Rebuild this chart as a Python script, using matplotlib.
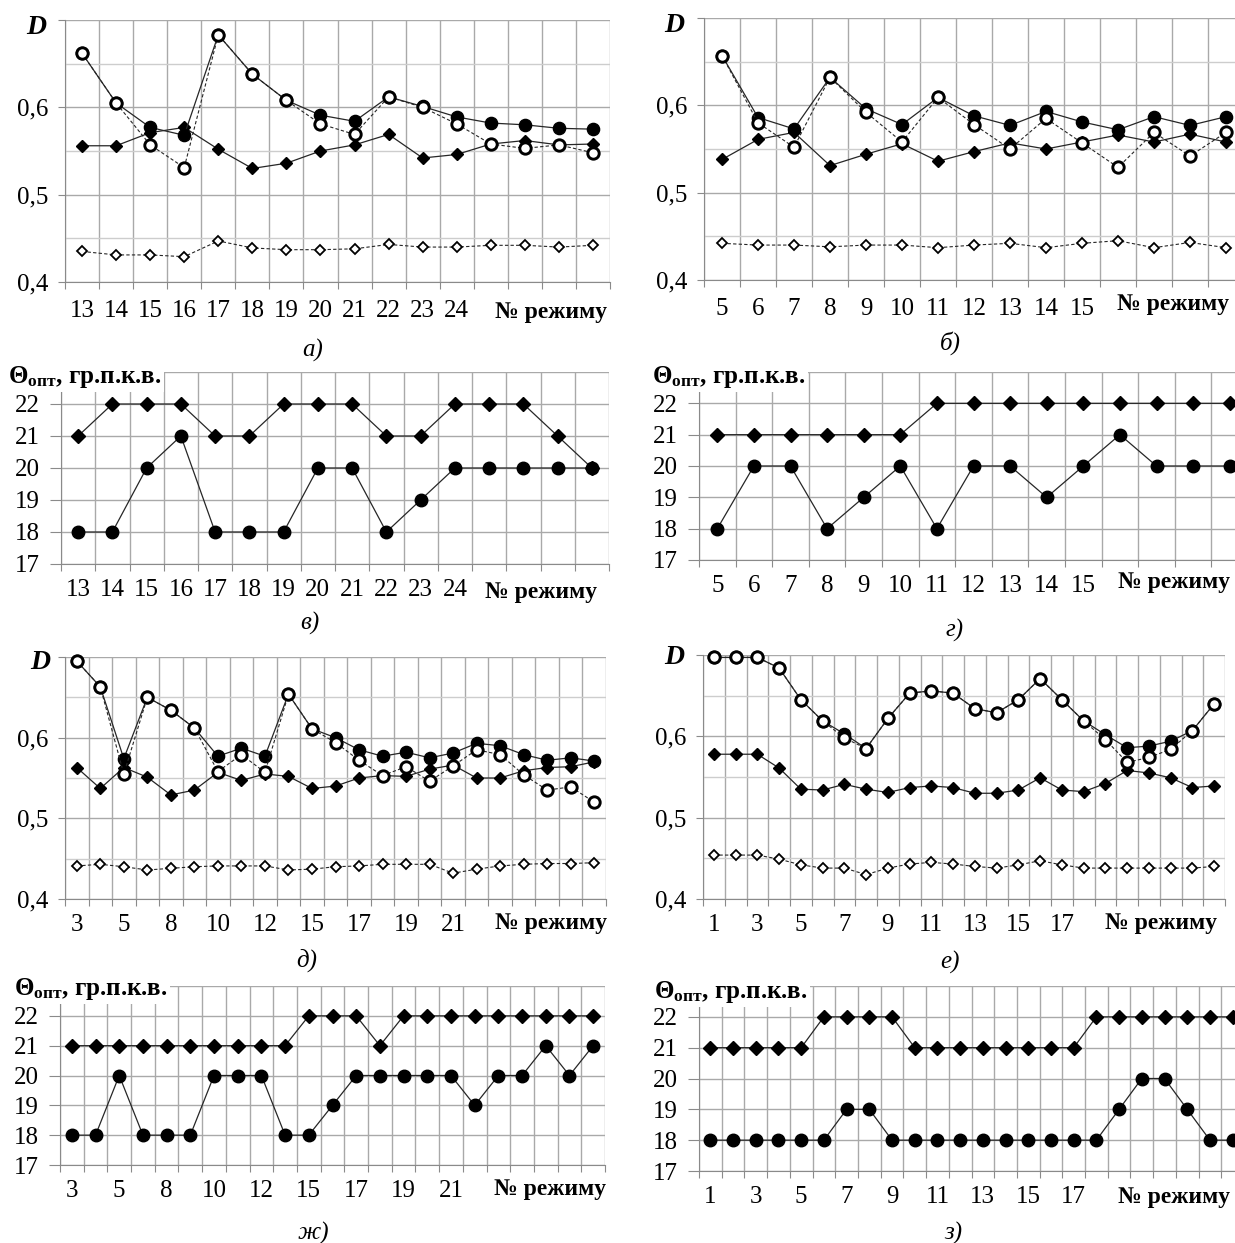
import matplotlib
matplotlib.use("Agg")
import matplotlib.pyplot as plt
import numpy as np

plt.rcParams["font.family"] = ["Liberation Serif", "DejaVu Serif"]
plt.rcParams["mathtext.fontset"] = "custom"
plt.rcParams["mathtext.rm"] = "Liberation Serif:bold"
plt.rcParams["mathtext.bf"] = "Liberation Serif:bold"
plt.rcParams["mathtext.it"] = "Liberation Serif:bold:italic"

W, H = 1235, 1243

# ---- panel а) : regimes 13..28, D
a_labels = ["13", "14", "15", "16", "17", "18", "19", "20", "21", "22", "23", "24", "", "", "", ""]
a_circ_fill = [0.662, 0.605, 0.577, 0.568, 0.683, 0.638, 0.608, 0.591, 0.584, 0.612, 0.601, 0.589, 0.582, 0.580, 0.576, 0.575]
a_circ_open = [0.662, 0.605, 0.557, 0.531, 0.683, 0.638, 0.608, 0.581, 0.569, 0.612, 0.600, 0.581, 0.558, 0.553, 0.557, 0.548]
a_diam_fill = [0.556, 0.556, 0.571, 0.577, 0.552, 0.530, 0.536, 0.550, 0.557, 0.569, 0.542, 0.546, 0.558, 0.562, 0.557, 0.558]
a_diam_open = [0.435, 0.431, 0.431, 0.429, 0.447, 0.439, 0.437, 0.437, 0.438, 0.443, 0.440, 0.440, 0.442, 0.442, 0.440, 0.442]

# ---- panel б) : regimes 5..19, D
b_labels = ["5", "6", "7", "8", "9", "10", "11", "12", "13", "14", "15", "", "", "", ""]
b_circ_fill = [0.657, 0.586, 0.573, 0.632, 0.596, 0.578, 0.609, 0.588, 0.577, 0.593, 0.581, 0.572, 0.587, 0.577, 0.587]
b_circ_open = [0.657, 0.580, 0.552, 0.632, 0.592, 0.558, 0.609, 0.578, 0.550, 0.585, 0.557, 0.529, 0.569, 0.542, 0.569]
b_diam_fill = [0.538, 0.561, 0.569, 0.531, 0.544, 0.556, 0.536, 0.547, 0.557, 0.550, 0.558, 0.566, 0.558, 0.567, 0.558]
b_diam_open = [0.442, 0.440, 0.440, 0.438, 0.440, 0.440, 0.437, 0.440, 0.442, 0.437, 0.442, 0.445, 0.437, 0.443, 0.437]

# ---- panel в) : theta opt, regimes 13..28
v_labels = a_labels
v_diam = [21, 22, 22, 22, 21, 21, 22, 22, 22, 21, 21, 22, 22, 22, 21, 20]
v_circ = [18, 18, 20, 21, 18, 18, 18, 20, 20, 18, 19, 20, 20, 20, 20, 20]

# ---- panel г) : theta opt, regimes 5..19
g_labels = b_labels
g_diam = [21, 21, 21, 21, 21, 21, 22, 22, 22, 22, 22, 22, 22, 22, 22]
g_circ = [18, 20, 20, 18, 19, 20, 18, 20, 20, 19, 20, 21, 20, 20, 20]

# ---- panel д) : 23 regimes, D
d_labels = ["3", "", "5", "", "8", "", "10", "", "12", "", "15", "", "17", "", "19", "", "21",
            "", "", "", "", "", ""]
d_circ_fill = [0.695, 0.663, 0.574, 0.650, 0.634, 0.612, 0.577, 0.587, 0.577, 0.654, 0.611, 0.600,
               0.585, 0.577, 0.582, 0.575, 0.581, 0.593, 0.590, 0.579, 0.572, 0.575, 0.571]
d_circ_open = [0.695, 0.663, 0.555, 0.650, 0.634, 0.612, 0.558, 0.579, 0.557, 0.654, 0.611, 0.594,
               0.572, 0.553, 0.564, 0.546, 0.565, 0.585, 0.579, 0.554, 0.535, 0.539, 0.520]
d_diam_fill = [0.563, 0.537, 0.563, 0.551, 0.529, 0.535, 0.557, 0.547, 0.555, 0.552, 0.537, 0.540,
               0.550, 0.553, 0.552, 0.561, 0.566, 0.550, 0.550, 0.559, 0.563, 0.564, 0.570]
d_diam_open = [0.441, 0.443, 0.440, 0.436, 0.438, 0.440, 0.441, 0.441, 0.441, 0.436, 0.437, 0.440,
               0.441, 0.443, 0.443, 0.443, 0.432, 0.437, 0.441, 0.443, 0.444, 0.444, 0.445]

# ---- panel е) : 24 regimes, D
e_labels = ["1", "", "3", "", "5", "", "7", "", "9", "", "11", "", "13", "", "15", "", "17",
            "", "", "", "", "", "", ""]
e_circ_fill = [0.697, 0.697, 0.697, 0.684, 0.645, 0.619, 0.603, 0.585, 0.622, 0.653, 0.656, 0.653,
               0.634, 0.629, 0.645, 0.671, 0.645, 0.619, 0.602, 0.586, 0.588, 0.594, 0.607, 0.640]
e_circ_open = [0.697, 0.697, 0.697, 0.684, 0.645, 0.619, 0.598, 0.585, 0.622, 0.653, 0.656, 0.653,
               0.634, 0.629, 0.645, 0.671, 0.645, 0.619, 0.596, 0.568, 0.574, 0.584, 0.607, 0.640]
e_diam_fill = [0.578, 0.578, 0.578, 0.561, 0.535, 0.534, 0.541, 0.535, 0.531, 0.537, 0.539, 0.537,
               0.530, 0.530, 0.534, 0.549, 0.534, 0.532, 0.542, 0.558, 0.555, 0.549, 0.537, 0.539]
e_diam_open = [0.454, 0.454, 0.454, 0.449, 0.442, 0.438, 0.438, 0.430, 0.438, 0.443, 0.445, 0.443,
               0.440, 0.438, 0.442, 0.447, 0.442, 0.438, 0.438, 0.438, 0.438, 0.438, 0.438, 0.440]

# ---- panel ж) : theta opt, 23 regimes
zh_labels = d_labels
zh_diam = [21, 21, 21, 21, 21, 21, 21, 21, 21, 21, 22, 22, 22, 21, 22, 22, 22, 22, 22, 22, 22, 22, 22]
zh_circ = [18, 18, 20, 18, 18, 18, 20, 20, 20, 18, 18, 19, 20, 20, 20, 20, 20, 19, 20, 20, 21, 20, 21]

# ---- panel з) : theta opt, 24 regimes
z_labels = e_labels
z_diam = [21, 21, 21, 21, 21, 22, 22, 22, 22, 21, 21, 21, 21, 21, 21, 21, 21, 22, 22, 22, 22, 22, 22, 22]
z_circ = [18, 18, 18, 18, 18, 18, 19, 19, 18, 18, 18, 18, 18, 18, 18, 18, 18, 18, 19, 20, 20, 19, 18, 18]

LINE = "#262626"
GRID = "#a9a9a9"
GRID_MINOR = "#cdcdcd"
AXIS = "#8a8a8a"
TICK_FS = 18


def place(fig, l, r, t, b):
    return fig.add_axes([l / W, 1 - b / H, (r - l) / W, (b - t) / H])


def frame(ax, labels, pad):
    n = len(labels)
    ax.set_xlim(0, n)
    ax.set_xticks(np.arange(n + 1))
    ax.set_xticklabels([])
    ax.set_xticks(np.arange(n) + 0.5, minor=True)
    ax.set_xticklabels(labels, minor=True, fontsize=TICK_FS)
    ax.tick_params(axis="x", which="major", length=5, color=AXIS, direction="out")
    ax.tick_params(axis="x", which="minor", length=0, pad=pad)
    ax.grid(True, axis="x", which="major", color=GRID, lw=1.0)
    for s in ("top", "right"):
        ax.spines[s].set_visible(False)
    ax.spines["left"].set_color(AXIS)
    ax.spines["bottom"].set_color(AXIS)
    ax.set_axisbelow(True)
    ax.tick_params(axis="y", labelsize=TICK_FS, color=AXIS, length=5, pad=7)
    return np.arange(n) + 0.5


def d_panel(ax, labels, c_fill, c_open, d_fill, d_open, pad):
    x = frame(ax, labels, pad)
    ax.set_ylim(0.4, 0.7)
    ax.set_yticks([0.4, 0.5, 0.6, 0.7])
    ax.set_yticklabels(["0,4", "0,5", "0,6", ""])
    ax.set_yticks([0.45, 0.55, 0.65], minor=True)
    ax.tick_params(axis="y", which="minor", length=0)
    ax.grid(True, axis="y", which="major", color=GRID, lw=1.0)
    ax.grid(True, axis="y", which="minor", color=GRID_MINOR, lw=1.0)
    ax.plot(x, d_open, ls=(0, (3, 2)), lw=0.8, color=LINE, marker="D", ms=5.6,
            mfc="white", mec="black", mew=1.3, clip_on=False)
    ax.plot(x, d_fill, ls="-", lw=0.9, color=LINE, marker="D", ms=6.4,
            mfc="black", mec="black", clip_on=False)
    ax.plot(x, c_fill, ls="-", lw=0.9, color=LINE, marker="o", ms=8.8,
            mfc="black", mec="black", clip_on=False)
    ax.plot(x, c_open, ls=(0, (3, 2)), lw=0.8, color=LINE, marker="o", ms=8.2,
            mfc="white", mec="black", mew=2.1, clip_on=False)


def t_panel(ax, labels, diam, circ, pad):
    x = frame(ax, labels, pad)
    ax.set_ylim(17, 23)
    ax.set_yticks(np.arange(17, 24))
    ax.set_yticklabels(["17", "18", "19", "20", "21", "22", ""])
    ax.tick_params(axis="y", length=8)
    ax.grid(True, axis="y", which="major", color=GRID, lw=1.0)
    ax.plot(x, diam, ls="-", lw=0.9, color=LINE, marker="D", ms=6.8,
            mfc="black", mec="black", clip_on=False)
    ax.plot(x, circ, ls="-", lw=0.9, color=LINE, marker="o", ms=9,
            mfc="black", mec="black", clip_on=False)


def ftext(fig, x, y, s, **kw):
    return fig.text(x / W, 1 - y / H, s, **kw)


fig = plt.figure(figsize=(W / 100, H / 100), dpi=100)

ax_a = place(fig, 65, 610, 20, 282)
d_panel(ax_a, a_labels, a_circ_fill, a_circ_open, a_diam_fill, a_diam_open, 13)
ax_b = place(fig, 704, 1244, 18, 280)
d_panel(ax_b, b_labels, b_circ_fill, b_circ_open, b_diam_fill, b_diam_open, 13)
ax_v = place(fig, 61, 609, 372, 564)
t_panel(ax_v, v_labels, v_diam, v_circ, 11)
ax_g = place(fig, 699, 1248, 372, 560)
t_panel(ax_g, g_labels, g_diam, g_circ, 11)
ax_d = place(fig, 65, 606, 657, 899)
d_panel(ax_d, d_labels, d_circ_fill, d_circ_open, d_diam_fill, d_diam_open, 11)
ax_e = place(fig, 703, 1225, 655, 899)
d_panel(ax_e, e_labels, e_circ_fill, e_circ_open, e_diam_fill, e_diam_open, 11)
ax_zh = place(fig, 60, 605, 986, 1165)
t_panel(ax_zh, zh_labels, zh_diam, zh_circ, 11)
ax_z = place(fig, 699, 1244, 986, 1171)
t_panel(ax_z, z_labels, z_diam, z_circ, 11)

box = dict(facecolor="white", edgecolor="none", pad=1.5)

# axis names
for x0, y0 in [(36, 27), (674, 25), (40, 662), (674, 658)]:
    ftext(fig, x0, y0, "D", fontsize=20, fontweight="bold", fontstyle="italic",
          ha="center", va="center")
theta = r"$\mathbf{\Theta}_{\mathbf{опт}}$, гр.п.к.в."
for x0, y0 in [(8, 377), (652, 377), (14, 989), (654, 992)]:
    ftext(fig, x0, y0, theta, fontsize=18, fontweight="bold", ha="left",
          va="center", bbox=box)
for x1, y0 in [(607, 313), (1229, 305), (597, 592), (1230, 582),
               (607, 924), (1217, 924), (606, 1190), (1230, 1197)]:
    ftext(fig, x1, y0, "№ режиму", fontsize=17, fontweight="bold", ha="right",
          va="center", bbox=box)

# captions
for x0, y0, s in [(313, 350, "а)"), (950, 343, "б)"), (310, 623, "в)"), (955, 630, "г)"),
                  (307, 960, "д)"), (950, 962, "е)"), (313, 1233, "ж)"), (953, 1233, "з)")]:
    ftext(fig, x0, y0, s, fontsize=18, fontstyle="italic", ha="center", va="center")

fig.savefig("out.png", dpi=100)
